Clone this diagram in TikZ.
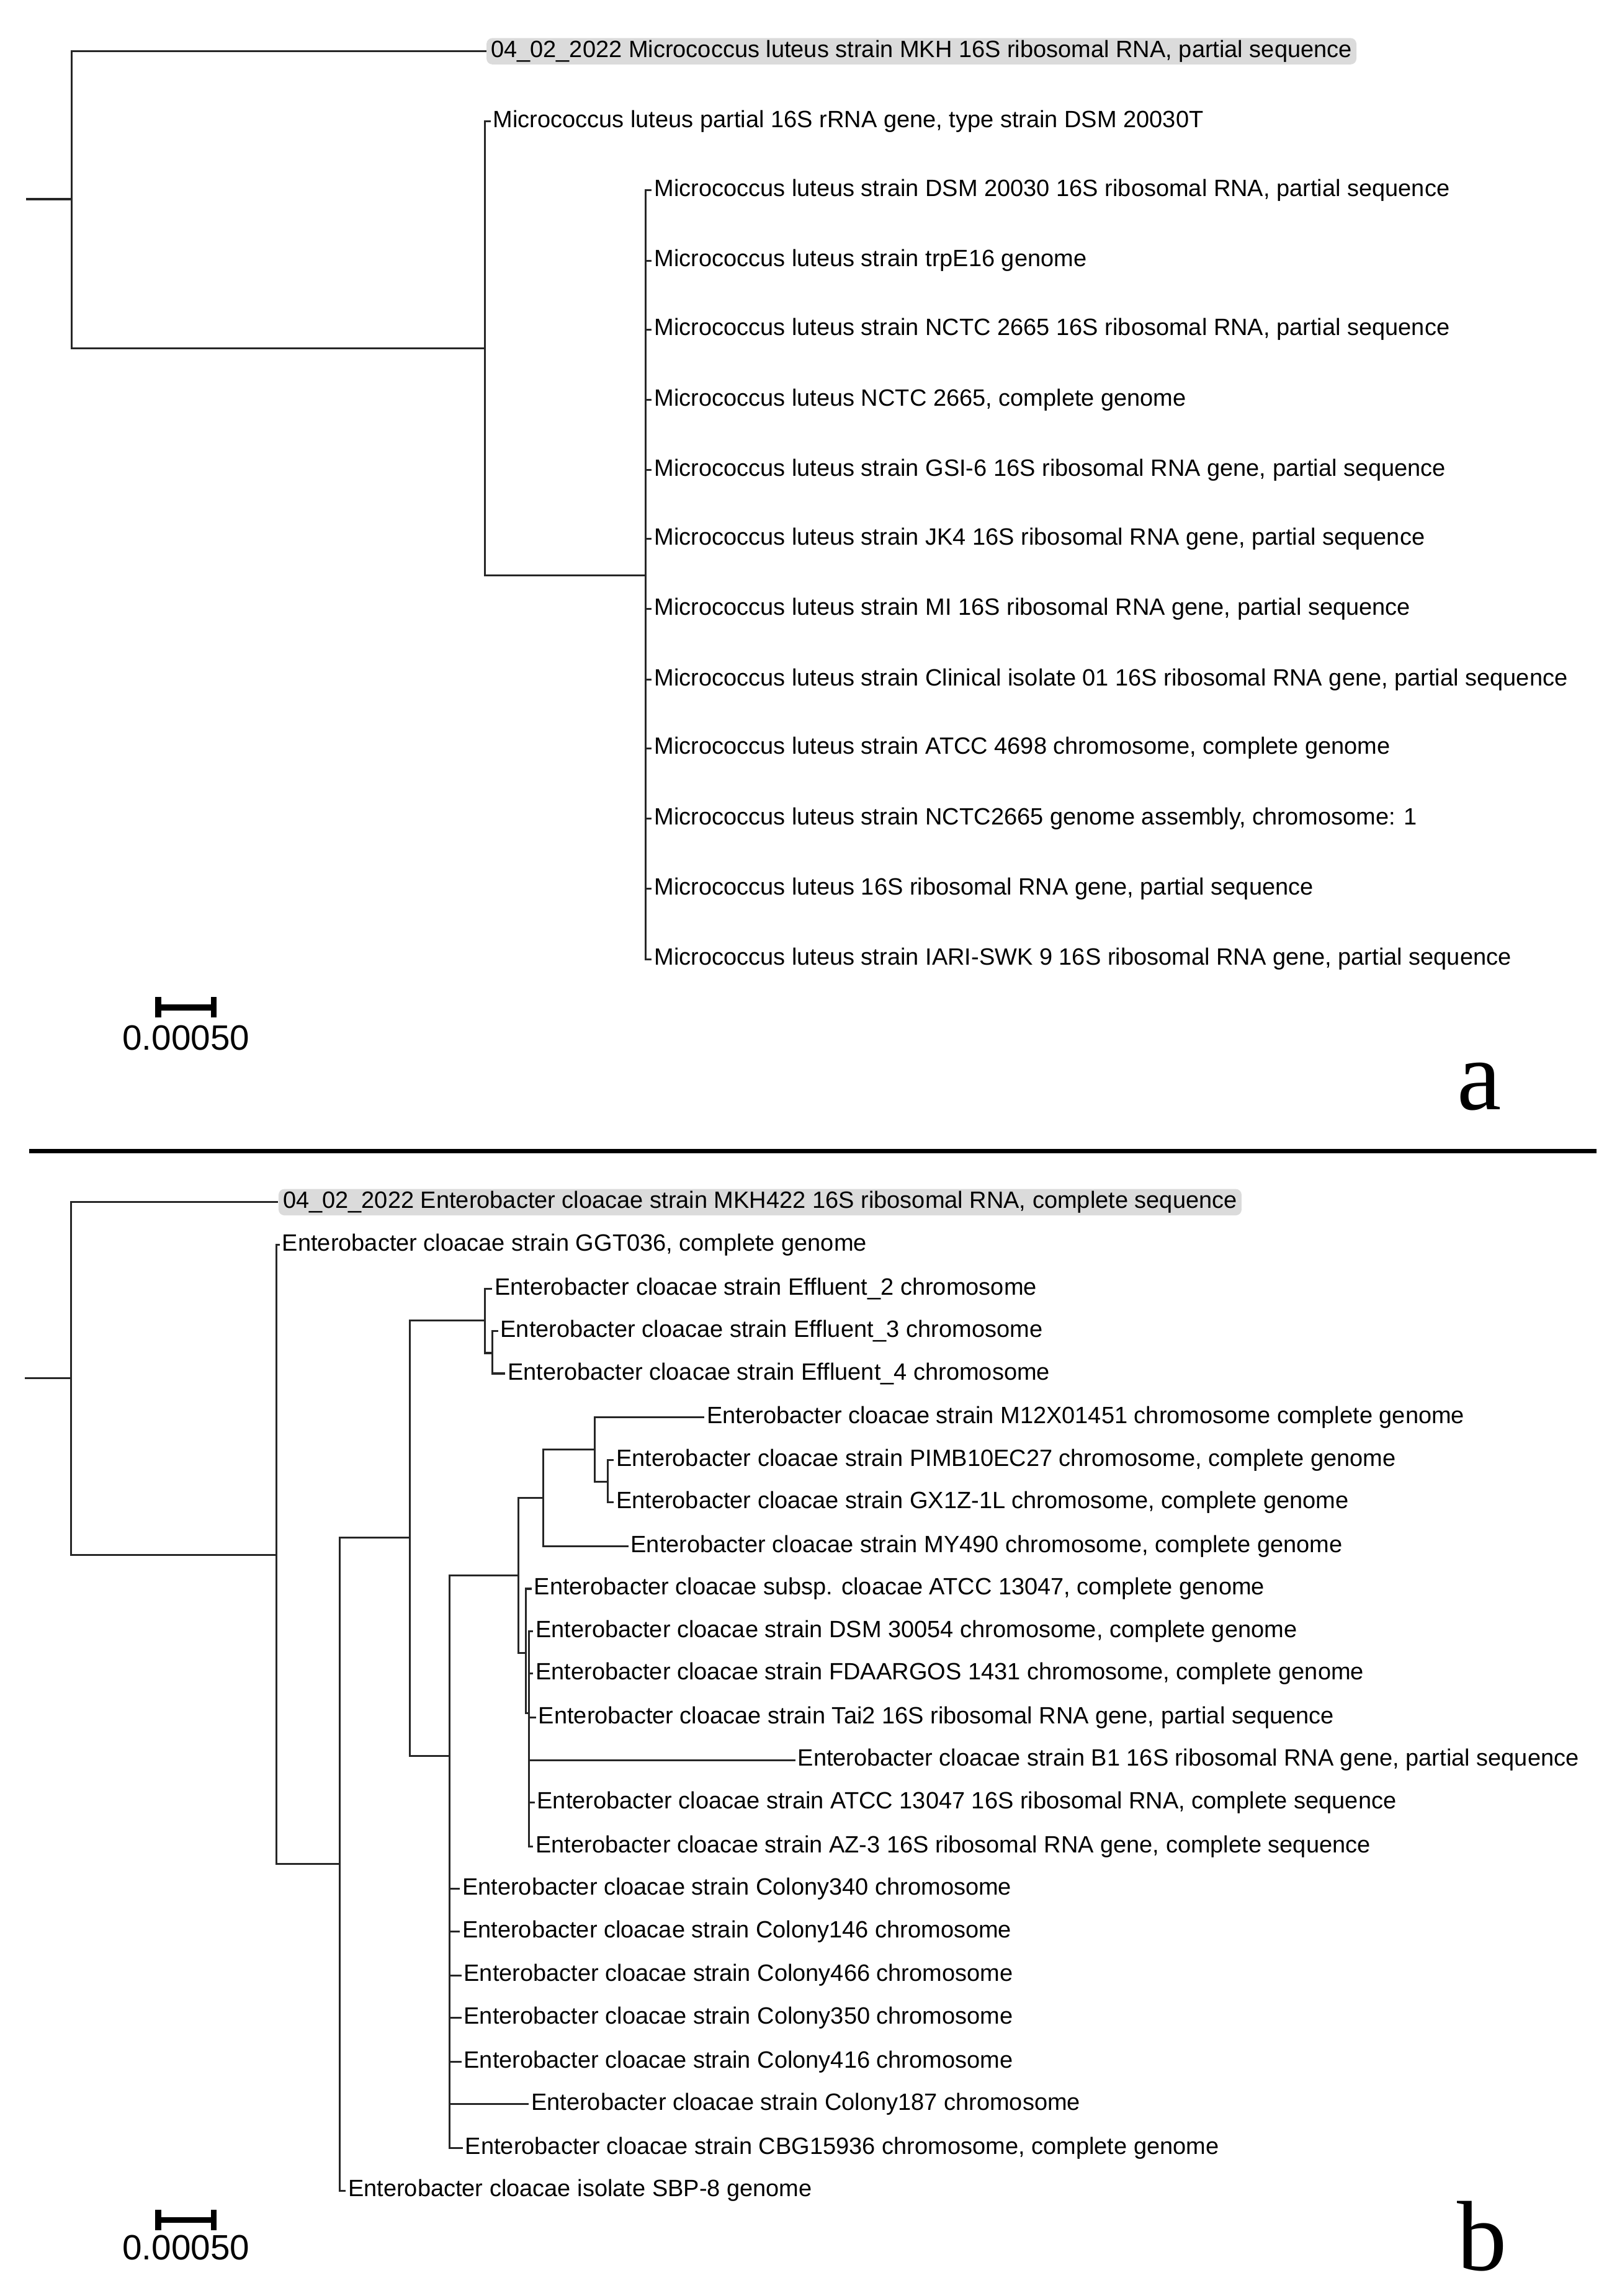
\documentclass[tikz,border=0pt]{standalone}
\usepackage{fontspec}
\setmainfont{Liberation Sans}
\newfontfamily\serifa{Liberation Serif}
\begin{document}
\begin{tikzpicture}[x=1bp,y=-1bp,
  br/.style={line width=1.3bp,draw=black!85},
  leaf/.style={anchor=west,inner sep=1.5bp,font=\fontsize{16.1bp}{17bp}\selectfont},
  hl/.style={leaf,fill=black!14,rounded corners=4bp,inner xsep=3bp},
  bar/.style={line width=4bp},
  lab/.style={font=\serifa\fontsize{68bp}{70bp}\selectfont}]
\useasboundingbox (0,0) rectangle (1104,1568);
% ---------- panel a ----------
\coordinate (ra0) at (18,136);
\coordinate (ra) at (49,136);
\coordinate (a1) at (331,238);
\coordinate (a2) at (441,393);
\node[hl] (A0) at (332,35) {04\_02\_2022 Micrococcus luteus strain MKH 16S ribosomal RNA, partial sequence};
\node[leaf] (A1) at (335,83) {Micrococcus luteus partial 16S rRNA gene, type strain DSM 20030T};
\draw[br] (ra0)--(ra);
\draw[br] (ra) |- (A0.west);
\draw[br] (ra) |- (a1);
\draw[br] (a1) |- (A1.west);
\draw[br] (a1) |- (a2);
\foreach \n/\y/\t in {
 A2/130/{Micrococcus luteus strain DSM 20030 16S ribosomal RNA, partial sequence},
 A3/178/{Micrococcus luteus strain trpE16 genome},
 A4/225/{Micrococcus luteus strain NCTC 2665 16S ribosomal RNA, partial sequence},
 A5/273/{Micrococcus luteus NCTC 2665, complete genome},
 A6/321/{Micrococcus luteus strain GSI-6 16S ribosomal RNA gene, partial sequence},
 A7/368/{Micrococcus luteus strain JK4 16S ribosomal RNA gene, partial sequence},
 A8/416/{Micrococcus luteus strain MI 16S ribosomal RNA gene, partial sequence},
 A9/464/{Micrococcus luteus strain Clinical isolate 01 16S ribosomal RNA gene, partial sequence},
 A10/511/{Micrococcus luteus strain ATCC 4698 chromosome, complete genome},
 A11/559/{Micrococcus luteus strain NCTC2665 genome assembly, chromosome: 1},
 A12/607/{Micrococcus luteus 16S ribosomal RNA gene, partial sequence},
 A13/655/{Micrococcus luteus strain IARI-SWK 9 16S ribosomal RNA gene, partial sequence}}
 {\node[leaf] (\n) at (445,\y) {\t}; \draw[br] (a2) |- (\n.west);}
\coordinate (sa1) at (108,688); \coordinate (sa2) at (146,688);
\draw[bar] (sa1)--(sa2);
\draw[bar] ([yshift=-7]sa1)--([yshift=7]sa1);
\draw[bar] ([yshift=-7]sa2)--([yshift=7]sa2);
\node[font=\fontsize{24bp}{26bp}\selectfont] (sla) at (127,709) {0.00050};
\node[lab] (pa) at (1010,742) {a};
% separator
\coordinate (s1) at (20,786); \coordinate (s2) at (1090,786);
\draw[line width=3bp] (s1)--(s2);
% ---------- panel b ----------
\coordinate (rb0) at (17,941);
\coordinate (rb) at (48.5,941);
\coordinate (b1) at (188.7,1062);
\coordinate (b2) at (232,1273);
\coordinate (b3) at (279.7,1050);
\coordinate (b4) at (331,901.6);
\coordinate (b5) at (336,924);
\coordinate (b6) at (307,1199);
\coordinate (b7) at (354,1076);
\coordinate (b8) at (371,1023);
\coordinate (b9) at (406,990);
\coordinate (b10) at (415,1012);
\coordinate (b11) at (359,1129);
\coordinate (b12) at (361,1170);
\draw[br] (rb0)--(rb);
\node[hl] (B0) at (190,821) {04\_02\_2022 Enterobacter cloacae strain MKH422 16S ribosomal RNA, complete sequence};
\draw[br] (rb) |- (B0.west);
\draw[br] (rb) |- (b1);
\node[leaf] (B1) at (191,850) {Enterobacter cloacae strain GGT036, complete genome};
\draw[br] (b1) |- (B1.west);
\draw[br] (b1) |- (b2);
\node[leaf] (BS) at (236,1496) {Enterobacter cloacae isolate SBP-8 genome};
\draw[br] (b2) |- (BS.west);
\draw[br] (b2) |- (b3);
\draw[br] (b3) |- (b4);
\node[leaf] (E2) at (336,880) {Enterobacter cloacae strain Effluent\_2 chromosome};
\draw[br] (b4) |- (E2.west);
\draw[br] (b4) |- (b5);
\node[leaf] (E3) at (340,909) {Enterobacter cloacae strain Effluent\_3 chromosome};
\node[leaf] (E4) at (345,938) {Enterobacter cloacae strain Effluent\_4 chromosome};
\draw[br] (b5) |- (E3.west);
\draw[br] (b5) |- (E4.west);
\draw[br] (b3) |- (b6);
\draw[br] (b6) |- (b7);
\draw[br] (b7) |- (b8);
\draw[br] (b8) |- (b9);
\node[leaf] (M12) at (481,968) {Enterobacter cloacae strain M12X01451 chromosome complete genome};
\draw[br] (b9) |- (M12.west);
\draw[br] (b9) |- (b10);
\node[leaf] (PIM) at (419,997) {Enterobacter cloacae strain PIMB10EC27 chromosome, complete genome};
\node[leaf] (GX) at (419,1026) {Enterobacter cloacae strain GX1Z-1L chromosome, complete genome};
\draw[br] (b10) |- (PIM.west);
\draw[br] (b10) |- (GX.west);
\node[leaf] (MY) at (429,1056) {Enterobacter cloacae strain MY490 chromosome, complete genome};
\draw[br] (b8) |- (MY.west);
\draw[br] (b7) |- (b11);
\node[leaf] (SUB) at (363,1085) {Enterobacter cloacae subsp. cloacae ATCC 13047, complete genome};
\draw[br] (b11) |- (SUB.west);
\draw[br] (b11) |- (b12);
\foreach \n/\x/\y/\t in {
 DSM/364/1114/{Enterobacter cloacae strain DSM 30054 chromosome, complete genome},
 FDA/364/1143/{Enterobacter cloacae strain FDAARGOS 1431 chromosome, complete genome},
 TAI/366/1173/{Enterobacter cloacae strain Tai2 16S ribosomal RNA gene, partial sequence},
 BB1/543/1202/{Enterobacter cloacae strain B1 16S ribosomal RNA gene, partial sequence},
 ATC/365/1231/{Enterobacter cloacae strain ATCC 13047 16S ribosomal RNA, complete sequence},
 AZ/364/1261/{Enterobacter cloacae strain AZ-3 16S ribosomal RNA gene, complete sequence}}
 {\node[leaf] (\n) at (\x,\y) {\t}; \draw[br] (b12) |- (\n.west);}
\foreach \n/\x/\y/\t in {
 C1/314/1290/{Enterobacter cloacae strain Colony340 chromosome},
 C2/314/1319/{Enterobacter cloacae strain Colony146 chromosome},
 C3/315/1349/{Enterobacter cloacae strain Colony466 chromosome},
 C4/315/1378/{Enterobacter cloacae strain Colony350 chromosome},
 C5/315/1408/{Enterobacter cloacae strain Colony416 chromosome},
 C6/361/1437/{Enterobacter cloacae strain Colony187 chromosome},
 C7/316/1467/{Enterobacter cloacae strain CBG15936 chromosome, complete genome}}
 {\node[leaf] (\n) at (\x,\y) {\t}; \draw[br] (b6) |- (\n.west);}
\coordinate (sb1) at (108,1516); \coordinate (sb2) at (146,1516);
\draw[bar] (sb1)--(sb2);
\draw[bar] ([yshift=-7]sb1)--([yshift=7]sb1);
\draw[bar] ([yshift=-7]sb2)--([yshift=7]sb2);
\node[font=\fontsize{24bp}{26bp}\selectfont] (slb) at (127,1535) {0.00050};
\node[lab] (pb) at (1012,1527) {b};
\end{tikzpicture}
\end{document}
